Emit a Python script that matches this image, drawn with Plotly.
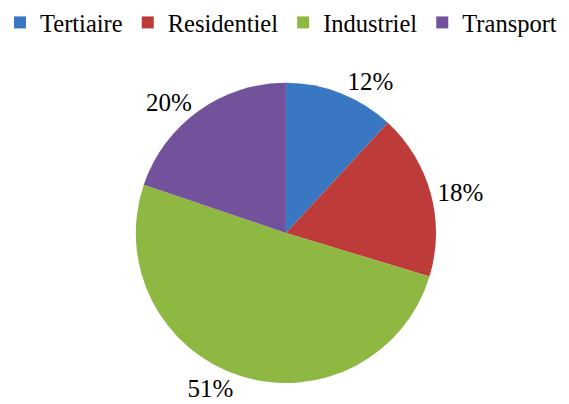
import plotly.graph_objects as go

categories = ["Tertiaire", "Residentiel", "Industriel", "Transport"]
values = [12, 18, 51, 20]
value_labels = ["12%", "18%", "51%", "20%"]
colors = ["#3a77c2", "#bd3c39", "#8fb843", "#73529c"]

SERIF = "Liberation Serif"

fig = go.Figure(go.Pie(
    labels=categories,
    values=values,
    text=value_labels,
    textinfo="text",
    textposition="outside",
    automargin=False,
    sort=False,
    direction="clockwise",
    rotation=0,
    marker=dict(colors=colors, line=dict(width=0)),
    textfont=dict(family=SERIF, size=25, color="#000000"),
    domain=dict(x=[0.005, 1.0], y=[0.052, 0.795]),
    showlegend=True,
))

fig.update_layout(
    width=569, height=404,
    margin=dict(l=0, r=0, t=0, b=0, pad=0, autoexpand=False),
    paper_bgcolor="white",
    plot_bgcolor="white",
    font=dict(family=SERIF, size=24.5, color="#000000"),
    legend=dict(
        orientation="h",
        xref="container", yref="container",
        x=0.0, xanchor="left",
        y=1.0, yanchor="top",
        bgcolor="rgba(0,0,0,0)",
        font=dict(family=SERIF, size=24.5, color="#000000"),
        itemwidth=30,
    ),
)

fig.write_html("out.html", config={"displayModeBar": False},
               post_script="document.body.style.margin='0px';")
